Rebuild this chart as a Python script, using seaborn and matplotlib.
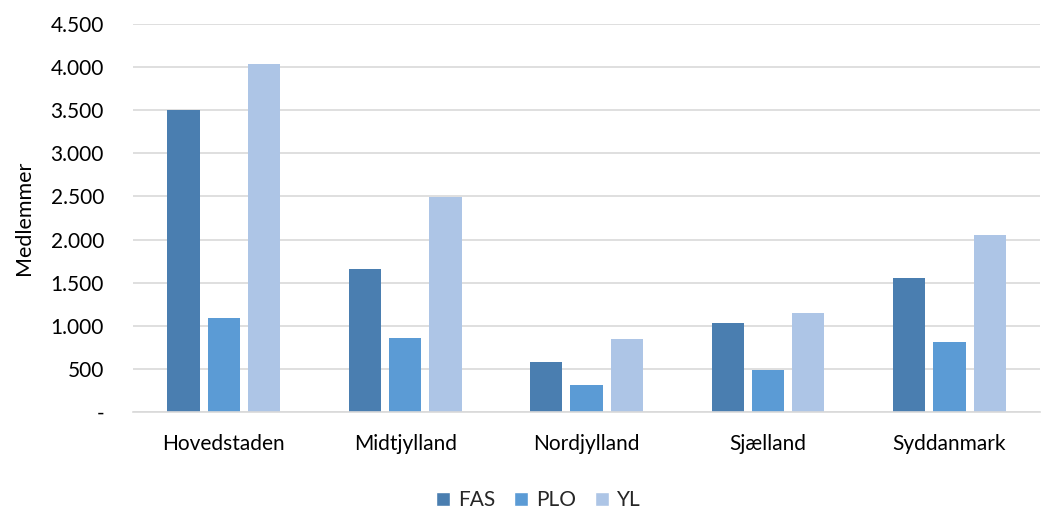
import matplotlib
matplotlib.use("Agg")
import matplotlib.pyplot as plt
import matplotlib.ticker as mticker
from matplotlib.patches import Patch
import seaborn as sns
import pandas as pd

regions = ["Hovedstaden", "Midtjylland", "Nordjylland", "Sjælland", "Syddanmark"]
fas = [3505, 1663, 578, 1030, 1550]
plo = [1092, 855, 316, 485, 815]
yl = [4037, 2495, 850, 1143, 2055]
series = ["FAS", "PLO", "YL"]
colors = ["#4a7eb0", "#5b9bd5", "#adc5e6"]

rows = []
for name, vals in zip(series, [fas, plo, yl]):
    for r, v in zip(regions, vals):
        rows.append({"Region": r, "Serie": name, "Medlemmer": v})
df = pd.DataFrame(rows)

sns.set_theme(style="white")
plt.rcParams["font.family"] = ["Lato", "DejaVu Sans"]

fig = plt.figure(figsize=(10.56, 5.13), dpi=100)
ax = fig.add_axes([0.126, 0.197, 0.859, 0.756])

sns.barplot(data=df, x="Region", y="Medlemmer", hue="Serie", hue_order=series,
            order=regions, palette=colors, width=0.667, gap=0.2, ax=ax,
            legend=False, saturation=1, errorbar=None, linewidth=0)

ax.set_ylim(0, 4500)
ax.set_xlim(-0.5, len(regions) - 0.5)
ax.set_yticks(range(0, 4501, 500))

def fmt(v, pos):
    if v == 0:
        return "-"
    return f"{int(v):,}".replace(",", ".")

ax.yaxis.set_major_formatter(mticker.FuncFormatter(fmt))
ax.grid(axis="y", color="#d9d9d9", linewidth=1.2)
ax.set_axisbelow(True)
for s in ["top", "right", "left"]:
    ax.spines[s].set_visible(False)
ax.spines["bottom"].set_color("#d9d9d9")
ax.spines["bottom"].set_linewidth(1.2)
ax.tick_params(axis="both", length=0, labelsize=15, colors="#000000")
ax.tick_params(axis="x", pad=16)
ax.tick_params(axis="y", pad=21)
ax.set_xlabel("")
ax.set_ylabel("Medlemmer", fontsize=15.5, color="#000000", labelpad=12)

handles = [Patch(facecolor=c, label=s) for c, s in zip(colors, series)]
fig.legend(handles=handles, loc="center", bbox_to_anchor=(0.51, 0.025), ncol=3,
           frameon=False, fontsize=15, handlelength=0.65, handleheight=0.65,
           handletextpad=0.4, columnspacing=0.9)

fig.savefig("out.png", dpi=100)
